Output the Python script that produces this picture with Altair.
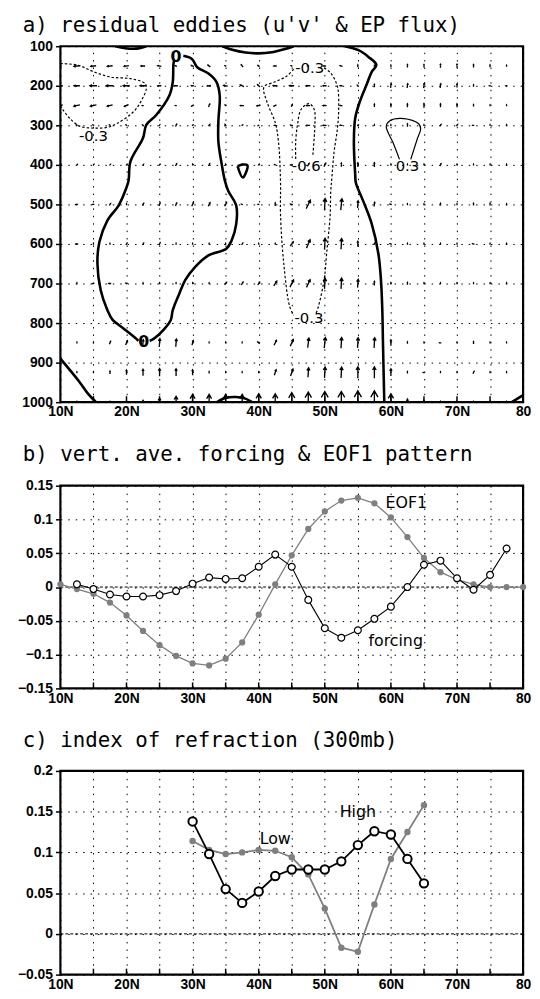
import altair as alt
import pandas as pd

# ---------------------------------------------------------------- data
LATS = [10, 12.5, 15, 17.5, 20, 22.5, 25, 27.5, 30, 32.5, 35, 37.5, 40, 42.5, 45,
        47.5, 50, 52.5, 55, 57.5, 60, 62.5, 65, 67.5, 70, 72.5, 75, 77.5, 80]
LEVELS = [150, 200, 250, 300, 400, 500, 600, 700, 850, 925, 1000]

# EP-flux vectors (u: northward, v: upward), one list per pressure level
U150 = [-0.2, -0.5, -0.45, -0.45, -0.4, -0.35, -0.3, -0.15, -0.2, -0.2, -0.1, -0.15, -0.15, -0.25, -0.1,
        -0.1, -0.2, -0.2, 0, 0, 0, 0, 0, 0, 0, 0, 0, 0, 0]
V150 = [0, -0.05, -0.05, -0.05, -0.05, 0, 0.05, 0.05, 0.1, 0.15, 0.05, 0.2, 0.1, 0, 0.05,
        0, 0, 0.05, 0.2, 0.1, 0.15, 0.25, 0.25, 0.3, 0.3, 0.25, 0.2, 0.1, 0.05]
U200 = [-0.4, -0.5, -0.6, -0.6, -0.55, -0.5, -0.3, -0.3, -0.2, -0.3, -0.35, -0.3, -0.2, -0.35, -0.4,
        -0.35, -0.3, -0.2, -0.05, 0, 0.05, 0.05, 0.05, 0.05, 0, 0, -0.1, -0.1, 0]
V200 = [0, 0, 0, 0, 0, 0, 0, 0, 0, -0.05, 0.05, 0.15, 0.2, 0, 0,
        0, 0, 0, 0.05, 0.25, 0.35, 0.35, 0.4, 0.35, 0.3, 0.15, 0, 0, 0.05]
U250 = [-0.4, -0.5, -0.5, -0.45, -0.35, -0.1, -0.3, -0.1, -0.15, 0.1, -0.05, -0.3, -0.3, -0.2, 0.1,
        -0.3, -0.3, -0.2, 0, 0, 0, 0, 0, 0, 0, 0, 0, 0, 0]
V250 = [-0.1, -0.1, -0.1, -0.1, -0.15, 0, 0, 0, -0.1, 0.25, 0.05, 0, -0.05, -0.1, 0.2,
        0, 0, 0, 0.05, 0.25, 0.3, 0.3, 0.35, 0.3, 0.3, 0.15, 0.1, 0.1, 0.05]
U300 = [-0.05, -0.05, -0.05, -0.05, -0.05, -0.05, 0.05, 0.1, 0.05, 0.1, -0.1, 0.05, -0.1, -0.15, -0.2,
        -0.3, -0.3, -0.2, 0.05, 0, 0, 0, 0, 0.1, 0.1, -0.1, 0, 0, 0]
V300 = [0.05, 0.05, 0.05, 0.05, 0.05, 0.05, 0.1, 0.2, 0.05, 0.15, 0.15, 0.05, -0.05, 0, 0.05,
        0, 0, 0, 0.05, 0.1, 0.1, 0.25, 0.1, 0.15, 0.15, 0, 0.05, 0.05, 0.05]
U400 = [0.05, 0.05, 0.05, 0.05, 0.05, 0.05, 0.05, 0.1, 0, 0.1, 0, 0, 0.05, -0.1, -0.2,
        0.15, 0.15, 0, 0, 0, 0, 0, 0, 0.1, 0, 0, 0, 0, 0]
V400 = [0.05, 0.05, 0.05, 0.05, 0.05, 0.05, 0.05, 0.2, 0.1, 0.2, 0.1, 0.1, 0.1, 0.05, 0,
        0.25, 0.3, 0.3, 0.35, 0.35, 0.1, 0.1, 0.1, 0.2, 0.05, 0.1, 0.1, 0.05, 0.05]
U500 = [-0.1, -0.2, -0.15, 0.1, 0, 0.1, 0.1, 0.1, 0.15, 0.15, 0.15, -0.1, -0.1, 0, -0.2,
        0.35, 0.05, 0.1, 0.05, 0.05, -0.15, 0, 0, 0, 0, 0, 0, 0, 0]
V500 = [0, 0, 0, 0.15, 0.05, 0.2, 0.25, 0.25, 0.3, 0.3, 0.3, 0.05, 0, 0.25, 0.05,
        0.7, 1.0, 0.95, 0.6, 0.35, 0.05, 0.1, 0.1, 0.2, 0.1, 0.2, 0.2, 0.05, 0.05]
U600 = [-0.15, -0.2, 0, 0, 0.1, 0.1, 0.1, 0, 0, 0, 0, 0.1, 0, 0, 0.25,
        0.3, 0.05, 0.05, 0, 0, -0.15, 0, 0, 0, 0, -0.15, 0, 0, 0]
V600 = [0, 0, 0.05, 0.05, 0.15, 0.15, 0.2, 0.05, 0.05, 0.05, 0.05, 0.15, 0.05, 0.05, 0.35,
        0.7, 0.95, 0.9, 0.45, 0.1, 0.05, 0.05, 0.05, 0.05, 0.05, 0.05, 0.05, 0.05, 0.05]
U700 = [0, 0, -0.15, -0.2, -0.1, 0, 0, 0, 0, 0, 0.15, 0.15, 0.15, 0.25, 0.3,
        0.3, 0.05, 0.05, 0.05, 0, 0, 0, 0, 0, 0, 0, 0, 0, 0]
V700 = [0.05, 0.05, 0, 0, 0.05, 0.05, 0.05, 0.05, 0.05, 0.05, 0.2, 0.25, 0.25, 0.4, 0.6,
        0.65, 0.9, 0.9, 0.7, 0.35, 0.15, 0.2, 0.05, 0.05, 0.05, 0.05, 0.05, 0.05, 0.05]
U850 = [0, 0, 0, 0.1, 0.15, 0.05, 0.05, 0.05, 0.1, 0, 0, 0, -0.15, 0.2, 0.25,
        0.1, 0.1, 0.05, 0.05, 0.05, 0, 0, 0, -0.15, 0, 0, 0, 0, 0]
V850 = [0.05, 0.05, 0.05, 0.25, 0.35, 0.5, 0.7, 0.65, 0.4, 0.1, 0.05, 0.05, 0.15, 0.4, 0.55,
        0.8, 0.9, 0.9, 0.85, 0.85, 0.5, 0.15, 0.1, 0, 0.05, 0.2, 0.05, 0.05, 0.05]
U925 = [0, 0, 0, 0, 0, 0, 0, 0, 0, 0, 0, 0, 0, 0.15, 0.2,
        0.05, 0.05, 0.05, 0, 0, 0, 0, -0.1, 0, 0, 0.1, 0, 0, 0]
V925 = [0.05, 0.05, 0.05, 0.25, 0.4, 0.55, 0.65, 0.6, 0.45, 0.15, 0.05, 0.05, 0.05, 0.45, 0.6,
        0.8, 0.9, 0.9, 0.95, 0.95, 0.6, 0.15, 0, 0.05, 0.05, 0.2, 0.05, 0.05, 0.05]
U1000 = [0, 0, 0, 0, 0, 0, 0, 0, 0, 0, 0, 0, 0, 0, 0,
         0, 0, 0, 0, 0, 0, 0, 0, 0, 0, 0, 0, 0, 0]
V1000 = [0.1, 0.1, 0.1, 0.15, 0.2, 0.3, 0.7, 1.0, 1.3, 1.3, 1.3, 1.3, 1.4, 1.4, 1.6,
         1.7, 1.8, 1.8, 1.9, 1.9, 1.4, 0.5, 0.3, 0.15, 0.1, 0.1, 0.1, 0.1, 0.1]
U_ROWS = [U150, U200, U250, U300, U400, U500, U600, U700, U850, U925, U1000]
V_ROWS = [V150, V200, V250, V300, V400, V500, V600, V700, V850, V925, V1000]

# u'v' contours (lat, pressure)
C_Z_CELL_R = [(28.6, 124), (29.9, 132), (30.7, 153), (32.4, 169), (33.6, 190), (34.1, 224), (33.9, 290),
              (33.9, 341), (34.4, 398), (34.9, 441), (35.4, 466), (36.6, 503), (36.6, 549), (35.9, 591),
              (35.1, 612), (32.4, 629), (30.4, 658), (28.9, 691), (28.0, 725), (27.0, 767), (26.7, 792),
              (25.6, 817), (24.1, 840), (23.5, 845)]
C_Z_CELL_L = [(21.8, 845), (21.5, 840), (19.5, 813), (17.9, 792), (17.1, 767), (16.1, 717), (15.6, 649),
              (15.9, 595), (17.1, 541), (18.8, 503), (19.8, 466), (20.3, 441), (20.6, 391), (22.5, 332),
              (23.0, 299), (24.5, 274), (26.5, 224), (27.0, 190), (27.1, 145), (27.2, 137)]
C_Z_RIGHT = [(53.0, 100), (55.1, 110), (56.6, 127), (57.8, 147), (57.1, 165), (56.3, 198), (55.3, 240),
             (54.6, 282), (54.4, 341), (54.6, 424), (54.7, 445), (55.8, 491), (57.1, 549), (58.1, 624),
             (58.5, 692), (58.7, 767), (58.8, 850), (59.0, 1000)]
C_Z_TOP1 = [(18.3, 100), (19.8, 105), (21.5, 106), (23.0, 100)]
C_Z_TOP2 = [(34.5, 100), (36.0, 109), (38.0, 116), (40.0, 118), (42.0, 115), (44.0, 107), (45.3, 100)]
C_Z_SW = [(10.0, 890), (12.8, 947), (14.1, 977), (15.4, 1000)]
C_Z_BUMP = [(33.7, 1000), (35.0, 989), (36.5, 987), (38.0, 991), (39.0, 1000)]
C_Z_SE = [(78.3, 1000), (80.0, 982)]
C_Z_TRI = [(36.8, 403), (37.6, 399), (38.3, 401), (37.6, 432), (36.8, 403)]
C_N_LEFT = [(10.0, 144), (12.7, 148), (15.1, 165), (17.6, 178), (20.6, 182), (22.8, 194), (23.0, 207),
            (22.3, 236), (21.1, 265), (18.6, 295), (17.1, 305), (15.0, 307), (12.9, 302), (11.4, 282),
            (10.4, 261), (10.0, 249)]
C_N_MID_L = [(45.3, 158), (44.2, 176), (42.5, 190), (40.8, 203), (41.3, 243), (42.5, 293), (43.0, 343),
             (43.3, 443), (43.3, 526), (43.8, 651), (44.7, 759), (45.3, 780)]
C_N_MID_R = [(49.9, 155), (50.9, 168), (51.9, 201), (52.1, 259), (51.9, 309), (51.4, 368), (51.1, 426),
             (50.9, 468), (50.8, 530), (50.3, 620), (49.9, 690), (49.0, 760), (48.6, 778)]
C_N_INNER = [(45.6, 385), (45.6, 340), (45.9, 295), (46.4, 260), (47.6, 245), (48.4, 260), (48.5, 300),
             (48.4, 330), (48.2, 375)]
C_P_1 = [(61.3, 386), (60.3, 343), (59.3, 303), (59.8, 289), (62.0, 283), (64.2, 296), (64.5, 309),
         (64.0, 334), (63.0, 386)]

LABELS_A = [(27.5, 127, "0", "bold"), (22.6, 849, "0", "bold"), (15.0, 327, "-0.3", "normal"),
            (47.7, 156, "-0.3", "normal"), (47.2, 404, "-0.6", "normal"), (47.6, 787, "-0.3", "normal"),
            (62.5, 404, "0.3", "normal")]

# panel b
LAT_EOF = LATS
EOF1 = [0.004, -0.003, -0.010, -0.023, -0.042, -0.065, -0.086, -0.102, -0.113, -0.116, -0.106, -0.082,
        -0.041, 0.004, 0.047, 0.086, 0.112, 0.128, 0.132, 0.124, 0.103, 0.074, 0.043, 0.022, 0.011,
        0.004, 0.0, 0.0, 0.0]
LAT_FORC = [12.5, 15, 17.5, 20, 22.5, 25, 27.5, 30, 32.5, 35, 37.5, 40, 42.5, 45, 47.5, 50, 52.5, 55,
            57.5, 60, 62.5, 65, 67.5, 70, 72.5, 75, 77.5]
FORCING = [0.004, -0.003, -0.011, -0.014, -0.014, -0.012, -0.006, 0.005, 0.014, 0.012, 0.013, 0.030,
           0.048, 0.030, -0.019, -0.061, -0.075, -0.064, -0.047, -0.029, 0.0, 0.033, 0.039, 0.013,
           -0.004, 0.018, 0.057]
LABELS_B = [(59.2, 0.125, "EOF1"), (56.6, -0.080, "forcing")]

# panel c
LAT_C = [30, 32.5, 35, 37.5, 40, 42.5, 45, 47.5, 50, 52.5, 55, 57.5, 60, 62.5, 65]
HIGH = [0.138, 0.098, 0.055, 0.038, 0.052, 0.071, 0.079, 0.079, 0.079, 0.089, 0.109, 0.126, 0.122,
        0.092, 0.062]
LOW = [0.114, 0.103, 0.098, 0.100, 0.103, 0.102, 0.094, 0.073, 0.031, -0.017, -0.022, 0.036, 0.092,
       0.125, 0.158]
LABELS_C = [(42.5, 0.116, "Low"), (55.0, 0.149, "High")]

X_GRID = [10, 15, 20, 25, 30, 35, 40, 45, 50, 55, 60, 65, 70, 75, 80]
X_INNER_TICKS = [15, 20, 25, 30, 35, 40, 45, 50, 55, 60, 65, 70, 75]
Y_A = [100, 200, 300, 400, 500, 600, 700, 800, 900, 1000]
Y_B = [-0.15, -0.1, -0.05, 0, 0.05, 0.1, 0.15]
Y_C = [-0.05, 0, 0.05, 0.1, 0.15, 0.2]

# ---------------------------------------------------------------- tables
vec_rows = []
for lev, us, vs in zip(LEVELS, U_ROWS, V_ROWS):
    for la, u, v in zip(LATS, us, vs):
        vec_rows.append({"lat": la, "p": lev, "u": u, "v": v})
df_vec = pd.DataFrame(vec_rows)

CONTOURS = [("zr", "zero", C_Z_CELL_R), ("zl", "zero", C_Z_CELL_L), ("zR", "zero", C_Z_RIGHT),
            ("zt1", "zero", C_Z_TOP1), ("zt2", "zero", C_Z_TOP2), ("zsw", "zero", C_Z_SW),
            ("zb", "zero", C_Z_BUMP), ("zse", "zero", C_Z_SE), ("ztri", "zero", C_Z_TRI),
            ("nl", "neg", C_N_LEFT), ("nml", "neg", C_N_MID_L), ("nmr", "neg", C_N_MID_R),
            ("ni", "neg", C_N_INNER), ("p1", "pos", C_P_1)]
con_rows = []
for cid, kind, pts in CONTOURS:
    for i, (la, pp) in enumerate(pts):
        con_rows.append({"cid": cid, "kind": kind, "ord": i, "lat": la, "p": pp})
df_con = pd.DataFrame(con_rows)
df_lab_a = pd.DataFrame(LABELS_A, columns=["lat", "p", "txt", "wt"])

df_eof = pd.DataFrame({"lat": LAT_EOF, "val": EOF1})
df_forc = pd.DataFrame({"lat": LAT_FORC, "val": FORCING})
df_lab_b = pd.DataFrame(LABELS_B, columns=["lat", "val", "txt"])
df_high = pd.DataFrame({"lat": LAT_C, "val": HIGH})
df_low = pd.DataFrame({"lat": LAT_C, "val": LOW})
df_lab_c = pd.DataFrame(LABELS_C, columns=["lat", "val", "txt"])
df_ticks = pd.DataFrame({"lat": X_INNER_TICKS})
df_zero = pd.DataFrame({"val": [0]})

# ---------------------------------------------------------------- styling helpers
W = 468
HA, HB, HC = 360, 205, 206
GRAY = "#7f7f7f"
TFONT = "DejaVu Sans Mono"
LFONT = "DejaVu Sans"
ARROW = "M0,1L0,-1M-0.32,-0.45L0,-1L0.32,-0.45"


def xaxis():
    return alt.Axis(values=X_GRID, title=None, ticks=False, domain=False, grid=True,
                    labelPadding=3, labelFlush=False, labelOverlap=False,
                    labelExpr="datum.value % 10 === 0 ? (datum.value === 80 ? '80' : datum.value + 'N') : ''")


def yaxis(vals):
    return alt.Axis(values=vals, title=None, format=".2~f", domain=False, grid=True,
                    tickSize=5, labelPadding=3, minExtent=51, maxExtent=51, labelOverlap=False)


XS = alt.Scale(domain=[10, 80], nice=False, zero=False)
X = alt.X("lat:Q", scale=XS, axis=xaxis())


def title(text, off):
    return alt.TitleParams(text=text, anchor="start", frame="group", dx=-38, offset=off,
                           font=TFONT, fontSize=21, fontWeight="normal", color="black",
                           baseline="alphabetic")


def inner_ticks(h):
    return alt.Chart(df_ticks).mark_rule(color="black", strokeWidth=1.5).encode(
        x=X, y=alt.value(h), y2=alt.value(h - 6))


# ---------------------------------------------------------------- panel a
YA = alt.Y("p:Q", scale=alt.Scale(domain=[100, 1000], reverse=True, nice=False, zero=False),
           axis=yaxis(Y_A))

arrows = alt.Chart(df_vec).transform_calculate(
    mag="max(sqrt(datum.u*datum.u + datum.v*datum.v), 0.12)",
    ang="(atan2(datum.u, datum.v) * 180 / PI + 360) % 360",
).mark_point(shape=ARROW, filled=False, stroke="black", strokeWidth=1.35, opacity=1, clip=True).encode(
    x=X, y=YA,
    size=alt.Size("mag:Q", scale=alt.Scale(type="pow", exponent=2, domain=[0, 1], range=[0, 144]),
                  legend=None),
    angle=alt.Angle("ang:Q", scale=None),
)

con_base = alt.Chart(df_con)
zero_lines = con_base.transform_filter("datum.kind === 'zero'").mark_line(
    color="black", strokeWidth=2.6, interpolate="catmull-rom", clip=True).encode(
    x=X, y=YA, detail="cid:N", order="ord:Q")
neg_lines = con_base.transform_filter("datum.kind === 'neg'").mark_line(
    color="black", strokeWidth=1.2, strokeDash=[2.5, 2], interpolate="catmull-rom", clip=True).encode(
    x=X, y=YA, detail="cid:N", order="ord:Q")
pos_lines = con_base.transform_filter("datum.kind === 'pos'").mark_line(
    color="black", strokeWidth=1.2, interpolate="catmull-rom", clip=True).encode(
    x=X, y=YA, detail="cid:N", order="ord:Q")
lab_norm = alt.Chart(df_lab_a).transform_filter("datum.wt === 'normal'").mark_text(
    font=LFONT, fontSize=15, color="black", baseline="middle", align="center").encode(
    x=X, y=YA, text="txt:N")
lab_bold = alt.Chart(df_lab_a).transform_filter("datum.wt === 'bold'").mark_text(
    font=LFONT, fontSize=16, fontWeight="bold", color="black", baseline="middle", align="center").encode(
    x=X, y=YA, text="txt:N")

chart_a = alt.layer(arrows, zero_lines, neg_lines, pos_lines, lab_norm, lab_bold, inner_ticks(HA)).properties(
    width=W, height=HA, title=title("a) residual eddies (u'v' & EP flux)", -13.5))

# ---------------------------------------------------------------- panel b
YB = alt.Y("val:Q", scale=alt.Scale(domain=[-0.15, 0.15], nice=False, zero=False), axis=yaxis(Y_B))
zero_b = alt.Chart(df_zero).mark_rule(color="black", strokeWidth=1, strokeDash=[3, 2]).encode(y=YB)
eof_line = alt.Chart(df_eof).mark_line(color=GRAY, strokeWidth=1.3).encode(x=X, y=YB)
eof_pts = alt.Chart(df_eof).mark_circle(color=GRAY, size=40, opacity=1).encode(x=X, y=YB)
forc_line = alt.Chart(df_forc).mark_line(color="black", strokeWidth=1.1).encode(x=X, y=YB)
forc_pts = alt.Chart(df_forc).mark_circle(fill="white", stroke="black", strokeWidth=1.2, size=48,
                                          opacity=1).encode(x=X, y=YB)
lab_b = alt.Chart(df_lab_b).mark_text(font=LFONT, fontSize=16, color="black", align="left",
                                      baseline="middle").encode(x=X, y=YB, text="txt:N")
chart_b = alt.layer(zero_b, eof_line, eof_pts, forc_line, forc_pts, lab_b, inner_ticks(HB)).properties(
    width=W, height=HB, title=title("b) vert. ave. forcing & EOF1 pattern", -3))

# ---------------------------------------------------------------- panel c
YC = alt.Y("val:Q", scale=alt.Scale(domain=[-0.05, 0.2], nice=False, zero=False), axis=yaxis(Y_C))
zero_c = alt.Chart(df_zero).mark_rule(color="black", strokeWidth=1, strokeDash=[3, 2]).encode(y=YC)
low_line = alt.Chart(df_low).mark_line(color=GRAY, strokeWidth=1.8).encode(x=X, y=YC)
low_pts = alt.Chart(df_low).mark_circle(color=GRAY, size=42, opacity=1).encode(x=X, y=YC)
high_line = alt.Chart(df_high).mark_line(color="black", strokeWidth=1.8).encode(x=X, y=YC)
high_pts = alt.Chart(df_high).mark_circle(fill="white", stroke="black", strokeWidth=2, size=72,
                                          opacity=1).encode(x=X, y=YC)
lab_c = alt.Chart(df_lab_c).mark_text(font=LFONT, fontSize=16, color="black", align="center",
                                      baseline="middle").encode(x=X, y=YC, text="txt:N")
chart_c = alt.layer(zero_c, low_line, low_pts, high_line, high_pts, lab_c, inner_ticks(HC)).properties(
    width=W, height=HC, title=title("c) index of refraction (300mb)", -4))

chart = alt.vconcat(chart_a, chart_b, chart_c, spacing=21.5).properties(padding=0).configure_view(
    stroke="black", strokeWidth=2.2
).configure_axis(
    gridColor="black", gridDash=[1.5, 6], gridWidth=1, gridOpacity=1,
    labelFont="Liberation Sans", labelFontWeight="bold", labelFontSize=14, labelColor="black",
    tickColor="black", tickWidth=1.5,
)

chart.save("out.html", embed_options={"renderer": "svg", "actions": False})
